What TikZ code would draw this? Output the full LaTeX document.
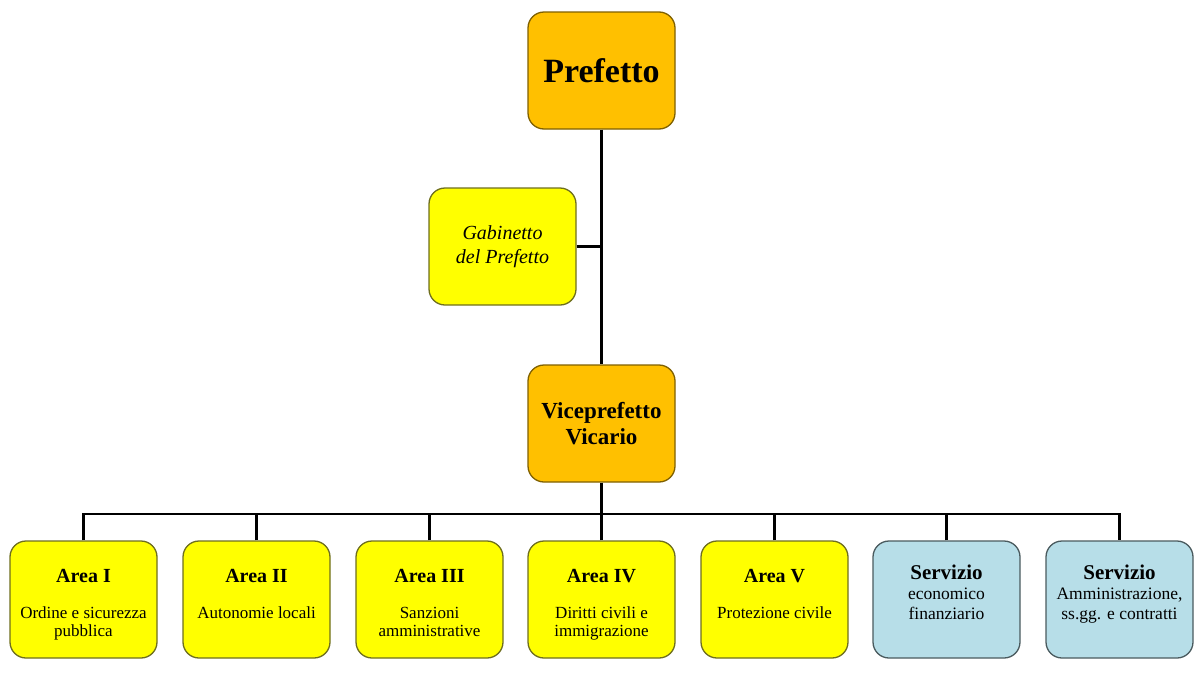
\documentclass[tikz,border=0pt]{standalone}
\usepackage{fontspec}
\setmainfont{Liberation Serif}
\setlength{\parskip}{0pt}
\definecolor{gold}{HTML}{FFC000}
\definecolor{goldline}{HTML}{7F6000}
\definecolor{yel}{HTML}{FFFF00}
\definecolor{yelline}{HTML}{6E6E1E}
\definecolor{lblue}{HTML}{B7DEE8}
\definecolor{blueline}{HTML}{4A5A5E}
\newcommand\btxt[2]{\raisebox{#1}[0pt][0pt]{\parbox[t]{144pt}{\centering\parskip=0pt #2}}}
\begin{document}
\begin{tikzpicture}[x=1pt,y=-1pt,
  box/.style={draw, line width=1.3pt, rounded corners=16pt, minimum width=147pt, minimum height=117pt, align=center, inner sep=0pt},
  goldbox/.style={box, fill=gold, draw=goldline},
  yelbox/.style={box, fill=yel, draw=yelline},
  bluebox/.style={box, fill=lblue, draw=blueline},
  conn/.style={line width=2.6pt, black}]
\useasboundingbox (0,0) rectangle (1200,675);
\node[goldbox, font={\fontsize{34}{38}\selectfont\bfseries}] (pref) at (601.5,70.5) {Prefetto};
\node[yelbox, font={\fontsize{20}{24.5}\selectfont\itshape}] (gab) at (502.5,246.5) {Gabinetto\\del Prefetto};
\node[goldbox, font={\fontsize{23}{26}\selectfont\bfseries}] (vice) at (601.5,423.5) {Viceprefetto\\Vicario};
\coordinate (bus) at (601.5,514);
\foreach \i/\x/\t/\s in {
  1/83.5/Area I/{Ordine e sicurezza\\pubblica},
  2/256.5/Area II/{Autonomie locali},
  3/429.5/Area III/{Sanzioni\\amministrative},
  4/601.5/Area IV/{Diritti civili e\\immigrazione},
  5/774.5/Area V/{Protezione civile}}{
  \node[yelbox] (a\i) at (\x,599.5) {\btxt{17.5pt}{{\fontsize{20}{24}\selectfont\bfseries \t\par}\vspace{17.5pt}{\fontsize{17}{18.5}\selectfont \s\par}}};
}
\node[bluebox] (a6) at (946.5,599.5) {\btxt{20.5pt}{{\fontsize{21}{24}\selectfont\bfseries Servizio\par}{\fontsize{17.5}{20}\selectfont economico\\finanziario\par}}};
\node[bluebox] (a7) at (1119.5,599.5) {\btxt{20.5pt}{{\fontsize{21}{24}\selectfont\bfseries Servizio\par}{\fontsize{17.5}{20}\selectfont Amministrazione,\\ss.gg. e contratti\par}}};
\draw[conn] (pref.south) -- (vice.north);
\draw[conn] (gab.east) -- (gab.east -| pref.south);
\draw[conn] (vice.south) -- (bus);
\draw[conn] (a1.north) |- (bus) -| (a7.north);
\foreach \i in {2,3,4,5,6}{
  \draw[conn] (a\i.north) -- (a\i.north |- bus);
}
\end{tikzpicture}
\end{document}
